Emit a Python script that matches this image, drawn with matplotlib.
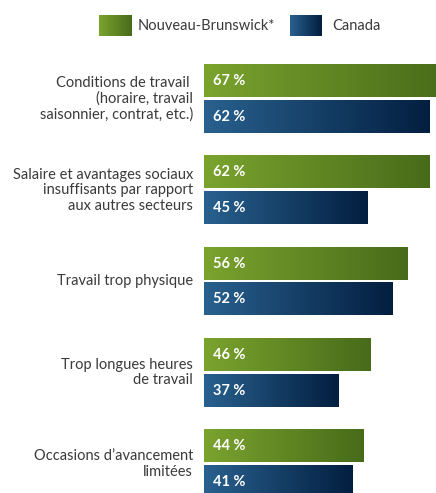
import numpy as np
import matplotlib
matplotlib.use("Agg")
import matplotlib.pyplot as plt
from matplotlib.transforms import blended_transform_factory

categories = ["Conditions de travail \n(horaire, travail\nsaisonnier, contrat, etc.)",
              "Salaire et avantages sociaux\ninsuffisants par rapport\naux autres secteurs",
              "Travail trop physique",
              "Trop longues heures\nde travail",
              "Occasions d\u2019avancement\nlimitées"]
nb = [67, 62, 56, 46, 44]
canada = [62, 45, 52, 37, 41]
series_names = ["Nouveau-Brunswick*", "Canada"]

green = [(0.48, 0.64, 0.18), (0.28, 0.42, 0.10)]
blue = [(0.16, 0.38, 0.56), (0.01, 0.12, 0.25)]
text_col = "#3a3a3a"

plt.rcParams['font.family'] = ['Lato', 'DejaVu Sans']

W, H = 436, 493
fig = plt.figure(figsize=(W / 100, H / 100), dpi=100)
ax = fig.add_axes([204 / W, 0, (W - 204) / W, 1])
ax.axis('off')

def grad_img(c0, c1):
    g = np.linspace(0, 1, 256)
    return np.array(c0)[None, None, :] * (1 - g)[None, :, None] + np.array(c1)[None, None, :] * g[None, :, None]

def grad_fill(bar, c0, c1):
    x, y = bar.get_x(), bar.get_y()
    w, h = bar.get_width(), bar.get_height()
    ax.imshow(grad_img(c0, c1), extent=(x, x + w, y + h, y), aspect='auto', zorder=2)
    bar.set_visible(False)

ypos = np.arange(len(categories))
bh = 0.351
off = 0.197
bars1 = ax.barh(ypos - off, nb, height=bh)
bars2 = ax.barh(ypos + off, canada, height=bh)
for b in bars1:
    grad_fill(b, *green)
for b in bars2:
    grad_fill(b, *blue)

ax.set_xlim(0, (W - 204) / 3.63)
ax.set_ylim((H - 99) / 91.25, -99 / 91.25)

for i, (a, c) in enumerate(zip(nb, canada)):
    ax.text(2.6, i - off, f"{a} %", color="white", fontweight="bold", fontsize=10.5, va="center", zorder=3)
    ax.text(2.6, i + off, f"{c} %", color="white", fontweight="bold", fontsize=10.5, va="center", zorder=3)

tr = blended_transform_factory(fig.transFigure, ax.transData)
for i, lab in enumerate(categories):
    ax.text(193 / W, i, lab, transform=tr, ha="right", va="center", fontsize=10.5,
            color=text_col, linespacing=1.12)

# legend
for x0, cols, name, tx in [(99, green, series_names[0], 138), (290, blue, series_names[1], 332)]:
    lax = fig.add_axes([x0 / W, 1 - 36 / H, 32 / W, 21 / H])
    lax.imshow(grad_img(*cols), aspect='auto')
    lax.axis('off')
    fig.text(tx / W, 1 - 26 / H, name, fontsize=10.5, color=text_col, va="center")

fig.savefig("out.png", dpi=100)
